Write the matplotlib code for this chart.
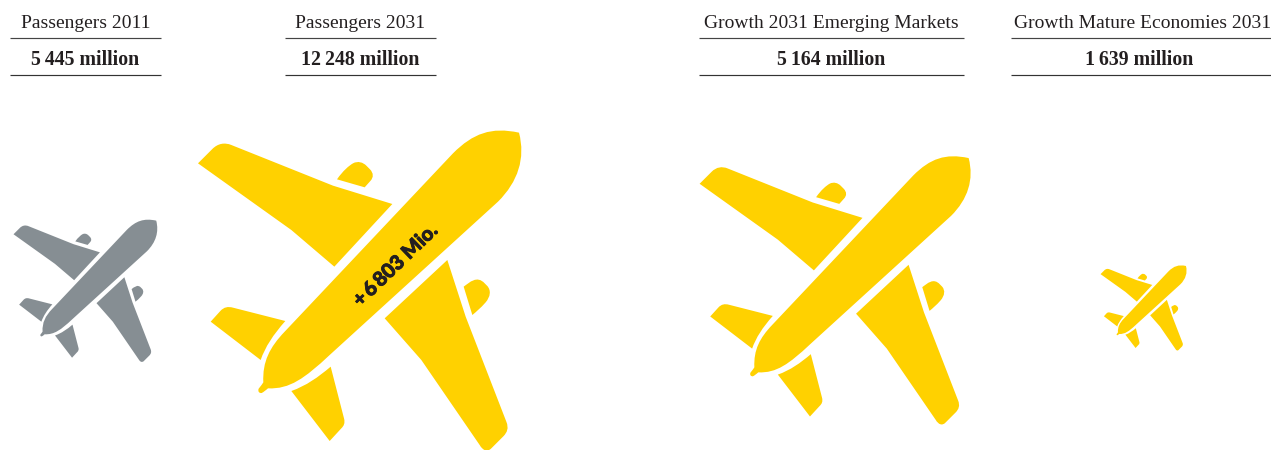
import matplotlib
matplotlib.use("Agg")
import matplotlib.pyplot as plt
import matplotlib.patheffects as pe
from matplotlib.path import Path
from matplotlib.patches import PathPatch
import numpy as np

# Header texts and passenger figures (millions)
titles = ["Passengers 2011", "Passengers 2031", "Growth 2031 Emerging Markets", "Growth Mature Economies 2031"]
passengers = [5445, 12248, 5164, 1639]
value_labels = ["5\u2009445 million", "12\u2009248 million", "5\u2009164 million", "1\u2009639 million"]
growth_label = "+\u20096\u2009803 Mio."

# Layout in pixels
rule_left = [10, 285, 699, 1011]
rule_right = [161, 436, 964, 1271]
plane_right = [158, 523, 972, 1187]
plane_top = [219, 129, 155, 265]
plane_color = ["#868e93", "#ffd100", "#ffd100", "#ffd100"]
px_per_million = [1 / 12248, 1 / 12248, 1.623e-4, 1.623e-4]

M, L, C, Z = Path.MOVETO, Path.LINETO, Path.CURVE4, Path.CLOSEPOLY


def shape(start, *segments):
    """Build a closed outline from a start point and line / cubic segments."""
    verts, codes = [start], [M]
    for seg in segments:
        if len(seg) == 1:
            verts += seg
            codes += [L]
        else:
            verts += seg
            codes += [C, C, C]
    verts.append(start)
    codes.append(Z)
    return verts, codes


# Aeroplane pictogram, drawn on a 3x grid with the nose pointing to the upper right
PARTS = [
    # fuselage
    shape((207, 806),
          [(214, 797), (218, 792), (221, 787)],
          [(218, 725), (240, 682), (285, 635)],
          [(790, 100)],
          [(850, 40), (905, 20), (988, 38)],
          [(1008, 115), (985, 185), (925, 245)],
          [(420, 705)],
          [(345, 775), (300, 808), (235, 805)],
          [(228, 811), (222, 816), (216, 819)],
          [(208, 820), (204, 814), (207, 806)]),
    # upper wing
    shape((25, 130),
          [(68, 87)],
          [(85, 70), (105, 67), (125, 75)],
          [(430, 197)],
          [(608, 252)],
          [(434, 440)],
          [(305, 330)]),
    # upper engine
    shape((442, 178),
          [(460, 152), (478, 137), (490, 130)],
          [(505, 122), (520, 127), (530, 137)],
          [(541, 148)],
          [(552, 160), (552, 172), (542, 183)],
          [(525, 202)]),
    # lower wing
    shape((773, 420),
          [(828, 590)],
          [(950, 905)],
          [(958, 925), (952, 937), (942, 948)],
          [(905, 985)],
          [(893, 997), (880, 992), (870, 975)],
          [(695, 720)],
          [(585, 595)]),
    # lower engine
    shape((822, 500),
          [(840, 487), (862, 465), (885, 490)],
          [(893, 498)],
          [(905, 512), (902, 530), (888, 547)],
          [(872, 565), (860, 575), (848, 585)]),
    # upper tailplane
    shape((63, 605),
          [(92, 573)],
          [(103, 561), (115, 559), (130, 563)],
          [(287, 603)],
          [(250, 645), (227, 680), (213, 720)]),
    # lower tailplane
    shape((305, 813),
          [(350, 797), (385, 772), (423, 740)],
          [(463, 895)],
          [(467, 910), (462, 918), (455, 925)],
          [(420, 963)]),
]
NOSE_X, TOP_Y, GRID = 1000, 27, 3.0

fig = plt.figure(figsize=(12.71, 4.5), dpi=100)
ax = fig.add_axes([0, 0, 1, 1])
ax.set_xlim(0, 1271)
ax.set_ylim(450, 0)
ax.axis("off")

serif = ["Liberation Serif", "DejaVu Serif"]
ink = "#231f20"

for i, value in enumerate(passengers):
    # Plane size follows the passenger figure
    scale = value * px_per_million[i] / GRID
    for verts, codes in PARTS:
        xy = np.asarray(verts, dtype=float)
        xy[:, 0] = plane_right[i] + (xy[:, 0] - NOSE_X) * scale
        xy[:, 1] = plane_top[i] + (xy[:, 1] - TOP_Y) * scale
        ax.add_patch(PathPatch(Path(xy, codes), facecolor=plane_color[i], edgecolor="none"))

    centre = (rule_left[i] + rule_right[i]) / 2
    ax.plot([rule_left[i], rule_right[i]], [37.7, 37.7], color="#444444", lw=0.85, solid_capstyle="butt")
    ax.plot([rule_left[i], rule_right[i]], [74.7, 74.7], color="#333333", lw=0.85, solid_capstyle="butt")
    title_x = 1143 if i == 3 else centre
    ax.text(title_x, 23.5, titles[i], family=serif, fontsize=14.0, color=ink, ha="center", va="center")
    ax.text(centre - (2 if i == 3 else 0), 60, value_labels[i], family=serif, fontsize=14.3, fontweight="bold",
            color=ink, ha="center", va="center")

label = ax.text(395, 265, growth_label, family=["Lato", "DejaVu Sans"], fontsize=14.5, fontweight="black",
                color=ink, rotation=44, rotation_mode="anchor", ha="center", va="center")
label.set_path_effects([pe.withStroke(linewidth=0.6, foreground=ink)])

fig.savefig("out.png", dpi=100)
